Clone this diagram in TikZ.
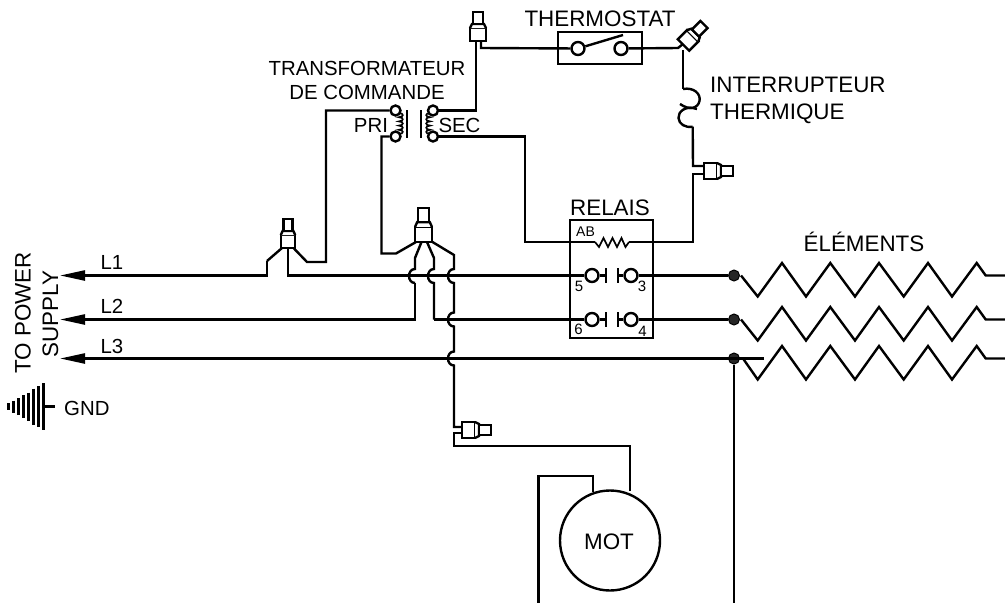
\documentclass[tikz,border=0pt]{standalone}
\usepackage{fontspec}
\setmainfont{Liberation Sans}
\usetikzlibrary{arrows.meta,calc}
\tikzset{
  wire/.style={line width=2.4pt,line join=miter},
  thin wire/.style={line width=1.7pt},
  hop/.style={to path={.. controls ($(\tikztostart)+(#1,0)$) and ($(\tikztotarget)+(#1,0)$) .. (\tikztotarget)}},
  hop/.default=-8,
  big/.style={font=\fontsize{22.4}{26}\selectfont,inner sep=0pt},
  mid/.style={font=\fontsize{20.4}{24}\selectfont,inner sep=0pt},
  tiny label/.style={font=\fontsize{15}{17}\selectfont,inner sep=0pt},
  term/.style={circle,draw,line width=2.4pt,inner sep=0pt,minimum size=#1},
  term/.default=12pt,
  junction/.style={circle,draw,fill=black!85,line width=1pt,inner sep=0pt,minimum size=11pt},
  powerhead/.style={-{Triangle[length=25pt,width=10pt]}},
  plug/.pic={
    \draw[wire,fill=white] (-8,0) rectangle (8,-13);
    \draw[wire,fill=white] (-8,-13) -- (-6,-17) -- (6,-17) -- (8,-13);
    \draw[wire,fill=white] (-5,-17) rectangle (5,-29);
  }
}
\begin{document}
\begin{tikzpicture}[x=1pt,y=-1pt]
\useasboundingbox (0,0) rectangle (1005,603);

% --- labels
\node[mid] (ltrans) at (367,68) {TRANSFORMATEUR};
\node[mid] (lcmd) at (367,92.5) {DE COMMANDE};
\node[mid] (lpri) at (371,125.5) {PRI};
\node[mid] (lsec) at (459.5,125.5) {SEC};
\node[big] (ltherm) at (600,19) {THERMOSTAT};
\node[big,anchor=west] (linter) at (710,85) {INTERRUPTEUR};
\node[big,anchor=west] (lthq) at (710,113.5) {THERMIQUE};
\node[big] (lrel) at (610,207.5) {RELAIS};
\node[big] (lelem) at (864,242) {ÉLÉMENTS};
\node[big,rotate=90] (lpow) at (23,313) {TO POWER};
\node[big,rotate=90] (lsup) at (50.5,314) {SUPPLY};
\node[mid] (ll1) at (112,262.5) {L1};
\node[mid] (ll2) at (112,306.5) {L2};
\node[mid] (ll3) at (112,346) {L3};
\node[mid,anchor=west] (lgnd) at (64,408) {GND};

% --- plugs (origin = centre of the base)
\coordinate (p1) at (478,41);
\coordinate (p2) at (288,248);
\coordinate (p3) at (423.5,242);
\coordinate (p4) at (462,430);
\coordinate (p5) at (704,171);
\coordinate (p6) at (683.5,45);
\pic at (p1) {plug};
\pic[xscale=.9] at (p2) {plug};
\pic[yscale=1.17,xscale=1.05] at (p3) {plug};
\pic[rotate=-90] at (p4) {plug};
\pic[rotate=-90] at (p5) {plug};
\pic[rotate=-45] at (p6) {plug};

% --- transformer
\node[term=10pt] (tp1) at (395.5,110.5) {};
\node[term=10pt] (tp2) at (395.5,136.5) {};
\node[term=10pt] (ts1) at (433,110.5) {};
\node[term=10pt] (ts2) at (433,136.5) {};
\draw[wire] (407,110) -- (407,138);
\draw[wire] (421,110) -- (421,138);
\draw[thin wire] (399,113) to[hop=5] (399,117.2) to[hop=5] (399,121.4) to[hop=5] (399,125.6) to[hop=5] (399,129.8) to[hop=5] (399,134);
\draw[thin wire] (430,113) to[hop=-5] (430,117.2) to[hop=-5] (430,121.4) to[hop=-5] (430,125.6) to[hop=-5] (430,129.8) to[hop=-5] (430,134);

% --- thermostat
\node[draw,line width=2.4pt,minimum width=84pt,minimum height=32pt,inner sep=0pt] (thbox) at (600,48) {};
\node[term=13pt] (th1) at (578,48.5) {};
\node[term=13pt] (th2) at (621,48.5) {};
\draw[wire] (th1) -- (623,35);

% --- thermal switch
\coordinate (ts top) at (683,89);
\coordinate (ts bot) at (692.7,126.7);
\draw[wire] (ts top) .. controls (694,87) and (701,94) .. (699.5,101) .. controls (698,108) and (690,111) .. (680,104);
\draw[wire] (697,109) .. controls (685,105) and (678,112) .. (678.5,118) .. controls (679,124) and (685,128) .. (ts bot);

% --- relay
\node[draw,line width=2.4pt,minimum width=83pt,minimum height=118pt,inner sep=0pt] (relay) at (611.5,279) {};
\node[font=\fontsize{14}{16}\selectfont,inner sep=0pt] (lab) at (585.5,232) {AB};
\coordinate (rl) at (595,242);
\coordinate (rr) at (629,242);
\draw[thin wire] (rl) -- (599,247) -- (603.5,238) -- (608,247) -- (612.5,238) -- (617,247) -- (621.5,238) -- (625.5,247) -- (rr);
\foreach \nm/\y in {a/275.5,b/319.5}{
  \node[term=13pt] (c\nm l) at (592,\y) {};
  \node[term=13pt] (c\nm r) at (631,\y) {};
  \coordinate (bar\nm l) at (606,\y);
  \coordinate (bar\nm r) at (618,\y);
  \draw[wire] (606,\y-7.5) -- (606,\y+7.5);
  \draw[wire] (618,\y-7.5) -- (618,\y+7.5);
  \draw[wire] (c\nm l) -- (bar\nm l);
  \draw[wire] (bar\nm r) -- (c\nm r.west);
}
\node[tiny label] (n5) at (579,286) {5};
\node[tiny label] (n3) at (642,286.5) {3};
\node[tiny label] (n6) at (578.5,329.5) {6};
\node[tiny label] (n4) at (642.5,331) {4};

% --- motor
\node[circle,draw,line width=2.4pt,minimum size=100pt,inner sep=0pt] (mot) at (610,540.5) {};
\node[big] (lmot) at (609,541.5) {MOT};

% --- junctions
\node[junction] (d1) at (734,275.5) {};
\node[junction] (d2) at (734,319.5) {};
\node[junction] (d3) at (734,358.5) {};

% --- free ends of the supply lines
\coordinate (t1) at (60,275.5);
\coordinate (t2) at (60,319.5);
\coordinate (t3) at (60,358.5);

% --- supply lines
\draw[wire,powerhead] (267,261) -- (267,275.5) -- (t1);
\draw[wire] (282,248) -- (267,261);
\draw[wire] (288,248) -- (288,275.5) -- (cal);
\draw[wire,powerhead] (415,283) -- (415,319.5) -- (t2);
\draw[wire] (434,319.5) -- (cbl);
\draw[wire,powerhead] (764,358.5) -- (t3);

% --- plug 3 legs with hops over L1, L2, L3
\draw[wire] (421.5,242) -- (415,258) -- (415,269) to[hop] (415,283);
\draw[wire] (427,242) -- (434,258) -- (434,269) to[hop] (434,283) -- (434,319.5);
\draw[wire] (432.5,242) -- (454,255) -- (454,269) to[hop] (454,283) -- (454,312.5) to[hop] (454,326.5) -- (454,351.5) to[hop] (454,365.5) -- (454,427) -- (462,427);

% --- control wiring
\draw[wire] (tp1) -- (326,110.5) -- (326,262) -- (307,262) -- (293.5,248);
\draw[wire] (tp2) -- (381.5,136.5) -- (381.5,253.5) -- (396,253.5) -- (416,242);
\draw[wire] (ts1) -- (476,110.5) -- (476,41);
\draw[wire] (ts2) -- (525,136.5) -- (525,242) -- (rl);
\draw[wire] (rr) -- (693,242) -- (693,174) -- (704,174);
\draw[wire] (704,166) -- (693,166) -- (ts bot);
\draw[wire] (481,41) -- (481,48) -- (th1);
\draw[wire] (th2) -- (678,48) -- (683,44);
\draw[wire] (683,50) -- (ts top);

% --- motor wiring
\draw[wire] (462,433) -- (454,433) -- (454,446) -- (630,446) -- (630,491);
\draw[wire] (593,491.5) -- (593,476) -- (538.5,476) -- (538.5,603);
\draw[wire] (d3) -- (734,603);

% --- contacts to elements
\draw[wire] (car.east) -- (d1);
\draw[wire] (cbr.east) -- (d2);

% --- heating elements
\foreach \n/\y/\sx in {1/275.5/741,2/319.5/741,3/358.5/743}{
  \draw[wire] (\sx,\y) -- (757.7,\y+21) -- (782,\y-12.5) -- (806,\y+21) -- (830.3,\y-12.5) -- (855,\y+21) -- (879,\y-12.5) -- (903.7,\y+21) -- (928,\y-12.5) -- (952,\y+21) -- (976.7,\y-12.5) -- (985.7,\y) -- (1005,\y);
}

% --- ground symbol
\coordinate (gnd) at (43.3,406.5);
\foreach \x/\h in {43.3/23.5,38.3/20.5,33.3/18,28.3/14,23.3/11.5,18.3/8.5,13.3/6,8.3/3.5}{
  \draw[line width=2.4pt] (\x,406.5-\h) -- (\x,406.5+\h);
}
\draw[wire] (gnd) -- (55,406.5);
\end{tikzpicture}
\end{document}
